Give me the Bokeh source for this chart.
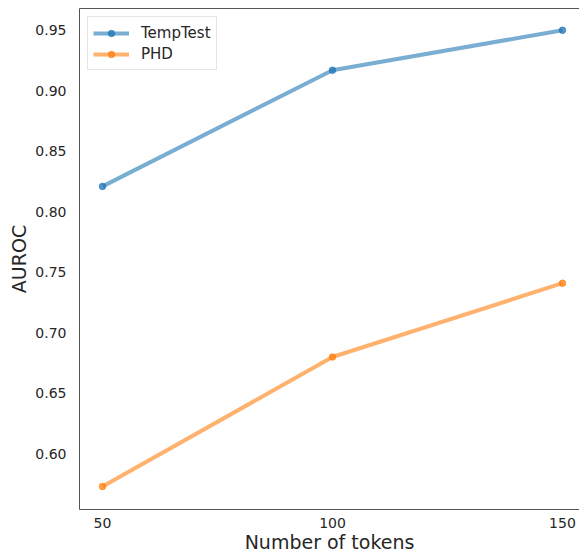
from bokeh.plotting import figure
from bokeh.models import FixedTicker, LinearAxis, Range1d, Legend, LegendItem, NumeralTickFormatter
from bokeh.embed import file_html
from bokeh.resources import INLINE

tokens = [50, 100, 150]
temptest = [0.821, 0.917, 0.950]
phd = [0.573, 0.680, 0.741]
x_ticks = [50, 100, 150]
y_ticks = [0.60, 0.65, 0.70, 0.75, 0.80, 0.85, 0.90, 0.95]

FONT = "DejaVu Sans"
TXT = "#262626"
EDGE = "#555555"

p = figure(width=579, height=555,
           x_range=Range1d(45, 153.7), y_range=Range1d(0.554, 0.968),
           output_backend="svg", toolbar_location=None,
           min_border_left=79, min_border_right=0, min_border_top=8, min_border_bottom=46,
           background_fill_color="white", border_fill_color="white")
p.outline_line_color = None
p.xgrid.visible = False
p.ygrid.visible = False

for ax in (p.xaxis[0], p.yaxis[0]):
    ax.axis_line_color = EDGE
    ax.axis_line_width = 1
    ax.major_tick_line_color = None
    ax.minor_tick_line_color = None
    ax.major_label_text_font = FONT
    ax.major_label_text_font_size = "14px"
    ax.major_label_text_color = TXT
    ax.axis_label_text_font = FONT
    ax.axis_label_text_font_size = "19px"
    ax.axis_label_text_font_style = "normal"
    ax.axis_label_text_color = TXT

p.xaxis.ticker = FixedTicker(ticks=x_ticks)
p.yaxis.ticker = FixedTicker(ticks=y_ticks)
p.yaxis.formatter = NumeralTickFormatter(format="0.00")
p.xaxis.axis_label = "Number of tokens"
p.yaxis.axis_label = "AUROC"
p.xaxis.major_label_standoff = 2
p.yaxis.major_label_standoff = 7
p.xaxis.axis_label_standoff = 0
p.yaxis.axis_label_standoff = 2

top = LinearAxis(ticker=FixedTicker(ticks=[]), axis_line_color=EDGE,
                 major_tick_line_color=None, minor_tick_line_color=None,
                 major_label_text_font_size="0px", major_tick_out=0, major_tick_in=0,
                 major_label_standoff=0)
p.add_layout(top, "above")

blue = "#1f77b4"
orange = "#ff7f0e"
l1 = p.line(tokens, temptest, line_color=blue, line_width=4, line_alpha=0.6)
s1 = p.scatter(tokens, temptest, size=6.5, fill_color=blue, line_color=blue, alpha=0.75)
l2 = p.line(tokens, phd, line_color=orange, line_width=4, line_alpha=0.6)
s2 = p.scatter(tokens, phd, size=6.5, fill_color=orange, line_color=orange, alpha=0.75)

legend = Legend(items=[LegendItem(label="TempTest", renderers=[l1, s1]),
                       LegendItem(label="PHD", renderers=[l2, s2])],
                location="top_left")
legend.label_text_font = FONT
legend.label_text_font_size = "15px"
legend.label_text_color = TXT
legend.border_line_color = "#cccccc"
legend.border_line_width = 1
legend.background_fill_alpha = 0.8
legend.glyph_width = 36
legend.glyph_height = 16
legend.label_height = 21
legend.label_standoff = 12
legend.padding = 5
legend.spacing = 0
legend.margin = 8
p.add_layout(legend)

open("out.html", "w").write(file_html(p, INLINE))
